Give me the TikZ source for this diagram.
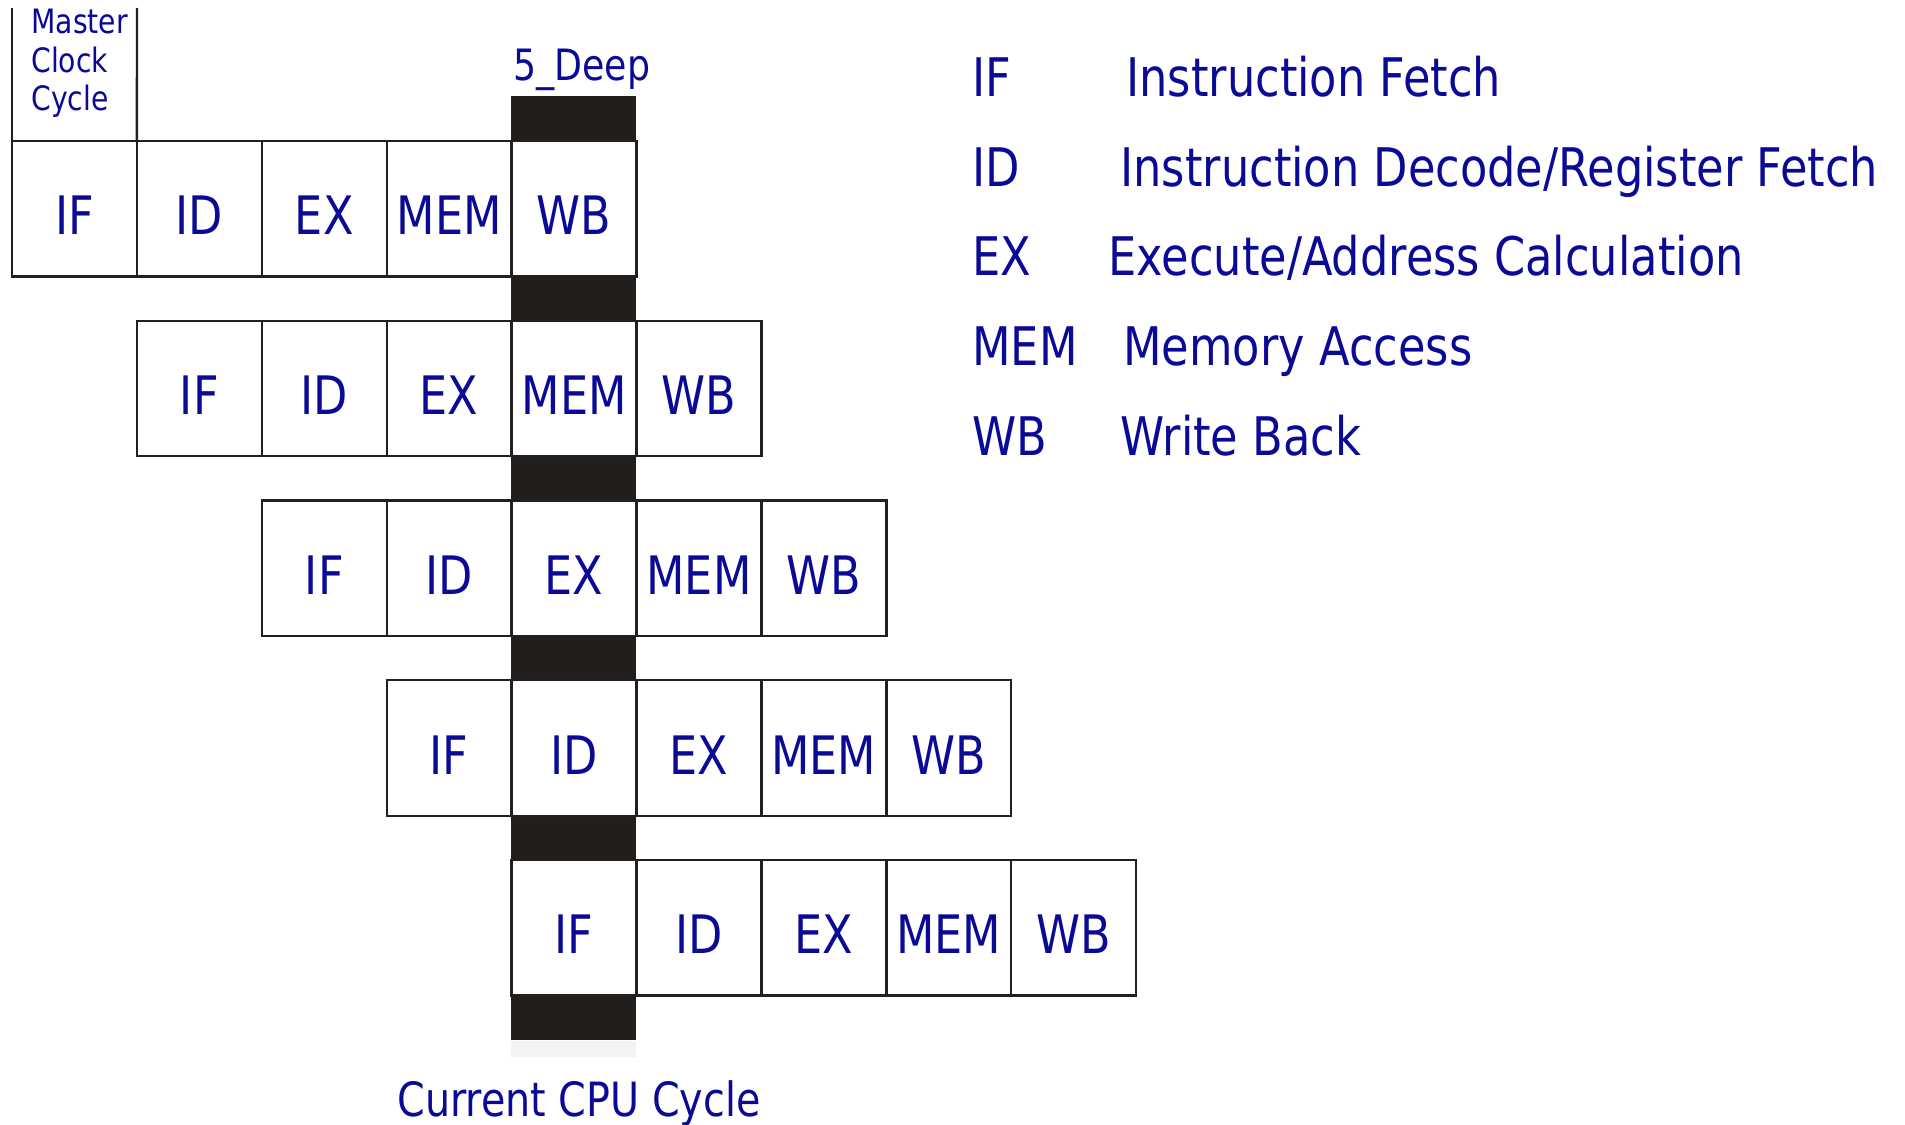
\documentclass[tikz,border=0pt]{standalone}
\usepackage{fontspec}
\setmainfont{DejaVu Sans}[FakeStretch=0.84]
\definecolor{tblue}{RGB}{10,10,150}
\definecolor{barc}{RGB}{34,30,27}
\definecolor{linec}{RGB}{35,31,32}
\definecolor{shadec}{RGB}{243,243,243}
\begin{document}
\begin{tikzpicture}[x=0.5pt,y=-0.5pt,
  cell/.style={draw=linec, line width=1.2pt, minimum width=62.45pt, minimum height=67.75pt,
    inner sep=0pt, outer sep=0pt, text=tblue, font=\fontsize{26.5}{30}\selectfont,
    text height=26pt, text depth=0pt, anchor=north west},
  bar/.style={fill=barc, draw=none, minimum width=62.45pt, minimum height=22.5pt,
    inner sep=0pt, outer sep=0pt, anchor=north west},
  conn/.style={draw=linec, line width=1.2pt},
  lbl/.style={text=tblue, inner sep=0pt, anchor=base west},
  legfont/.style={font=\fontsize{26.6}{30}\selectfont},
  smallfont/.style={font=\fontsize{16.8}{19}\selectfont},
  midfont/.style={font=\fontsize{21.6}{26}\selectfont}]
\useasboundingbox (0,0) rectangle (1905,1124);
% light shade under last bar
\node[fill=shadec, minimum width=62.45pt, minimum height=8pt, inner sep=0pt, outer sep=0pt, anchor=north west] (shade) at (511,1041) {};
% black bars (current CPU cycle column)
\foreach \r in {0,...,5}{
  \pgfmathsetmacro\yy{141+179.75*\r-45}
  \node[bar] (b\r) at (511,\yy) {};
}
% pipeline cells
\foreach \r in {0,...,4}{
  \foreach [count=\k from 0] \s in {IF,ID,EX,MEM,WB}{
    \pgfmathsetmacro\xx{12+124.9*(\r+\k)}
    \pgfmathsetmacro\yy{141+179.75*\r}
    \node[cell] (c\r-\k) at (\xx,\yy) {\s};
  }
}
% master clock cycle box
\coordinate (mtl) at (12,8);
\coordinate (mtr) at (137,8);
\draw[conn] (mtl) -- (c0-0.north west);
\draw[conn] (mtr) -- (c0-0.north east);
\node[lbl,smallfont] (m1) at (31,33) {Master};
\node[lbl,smallfont] (m2) at (31,72) {Clock};
\node[lbl,smallfont] (m3) at (31,110) {Cycle};
% top and bottom labels
\node[lbl,midfont] (deep) at (513,80) {5\_Deep};
\node[lbl,font=\fontsize{23.6}{27}\selectfont] (cur) at (397,1116) {Current CPU Cycle};
% legend
\node[lbl,legfont] (a1) at (972,96) {IF};
\node[lbl,legfont] (d1) at (1126,96) {Instruction Fetch};
\node[lbl,legfont] (a2) at (972,186) {ID};
\node[lbl,legfont] (d2) at (1120,186) {Instruction Decode/Register Fetch};
\node[lbl,legfont] (a3) at (972,275.5) {EX};
\node[lbl,legfont] (d3) at (1108,275.5) {Execute/Address Calculation};
\node[lbl,legfont] (a4) at (972,365.5) {MEM};
\node[lbl,legfont] (d4) at (1123,365.5) {Memory Access};
\node[lbl,legfont] (a5) at (972,455.5) {WB};
\node[lbl,legfont] (d5) at (1120,455.5) {Write Back};
\end{tikzpicture}
\end{document}
